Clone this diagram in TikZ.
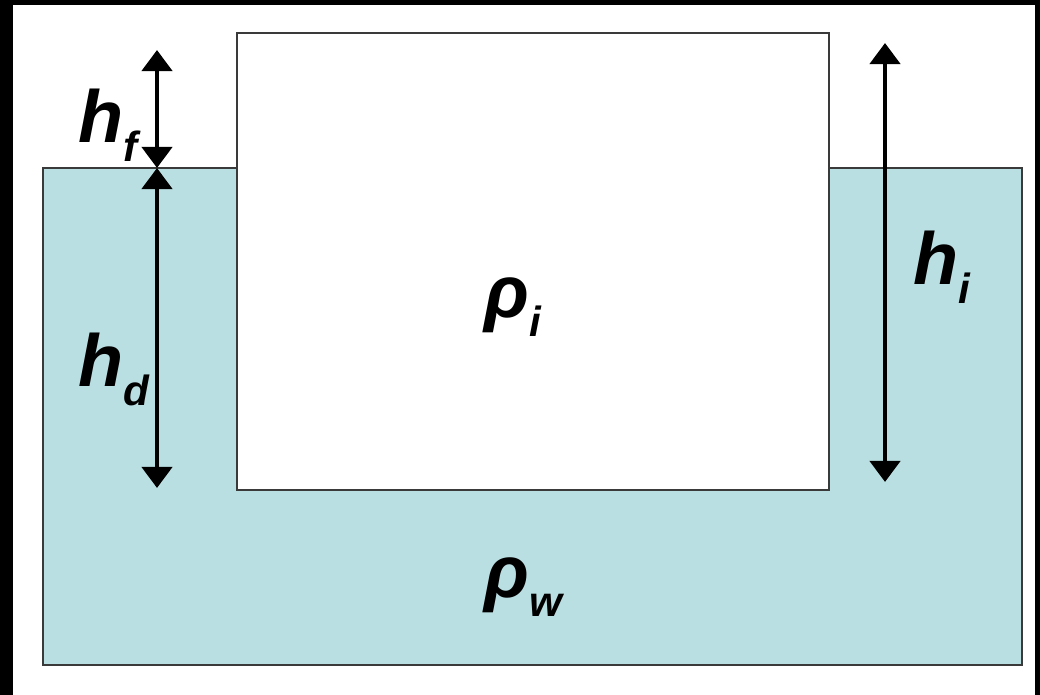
\documentclass[tikz,border=0pt]{standalone}
\usepackage{fontspec}
\setmainfont{Liberation Sans}
\usepackage{tikz}
\usetikzlibrary{arrows.meta, positioning}
\definecolor{waterblue}{HTML}{BADFE2}
\definecolor{edgegray}{HTML}{3A3A3A}
\newcommand{\subtxt}[1]{\raisebox{-5.4pt}{\fontsize{12}{12}\selectfont #1}}

\begin{document}
\begin{tikzpicture}[
  x=0.01cm, y=-0.01cm,
  body/.style={draw=edgegray, line width=0.6pt},
  dim/.style={{Triangle[width=8.5pt, length=6pt]}-{Triangle[width=8.5pt, length=6pt]}, line width=1.4pt, black},
  sym/.style={anchor=base west, inner sep=0pt, font=\fontsize{21}{24}\selectfont\bfseries\itshape},
]
\useasboundingbox (0,0) rectangle (1040,695);

% Frame
\fill[black] (0,0) rectangle (1040,695);
\fill[white] (13,5) rectangle (1035,695);

% Water and ice block
\draw[body, fill=waterblue] (43,168) rectangle (1022,665);
\draw[body, fill=white] (237,33) rectangle (829,490);

% Arrow ends
\coordinate (ftop) at (157,50);
\coordinate (lvl)  at (157,168);
\coordinate (dbot) at (157,488);
\coordinate (itop) at (885,43);
\coordinate (ibot) at (885,482);

% Dimensions
\draw[dim] (ftop) -- (lvl);
\draw[dim] (lvl) -- (dbot);
\draw[dim] (itop) -- (ibot);

% Labels
\node[sym] (hf)   at (78,143)  {h\subtxt{f}};
\node[sym] (hd)   at (78,387)  {h\subtxt{d}};
\node[sym] (hi)   at (913,285) {h\subtxt{i}};
\node[sym] (rhoi) at (484,318) {ρ\subtxt{i}};
\node[sym] (rhow) at (484,598) {ρ\subtxt{w}};

\end{tikzpicture}
\end{document}
